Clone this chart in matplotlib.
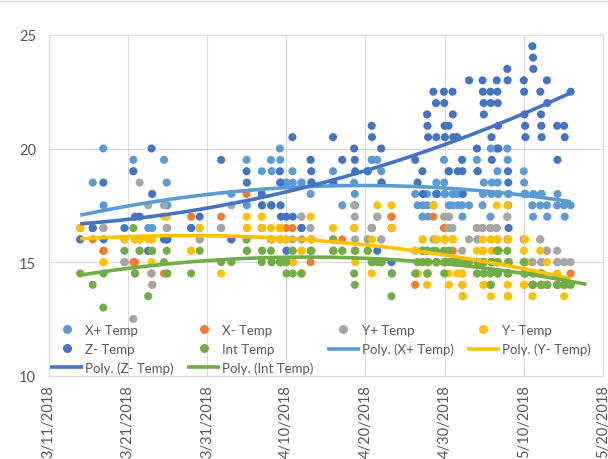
import numpy as np
import pandas as pd
import matplotlib
matplotlib.use('Agg')
import matplotlib.pyplot as plt
import matplotlib.dates as mdates
from matplotlib.lines import Line2D
from matplotlib.ticker import FuncFormatter

plt.rcParams['font.family'] = ['Lato', 'DejaVu Sans']

# logger time stamps (one reading of every sensor per stamp)
stamps = [
    '2018-03-15 00:00', '2018-03-16 14:00', '2018-03-17 22:00', '2018-03-17 23:00',
    '2018-03-20 14:00', '2018-03-21 17:00', '2018-03-21 22:00', '2018-03-22 12:00',
    '2018-03-23 14:00', '2018-03-24 00:00', '2018-03-24 02:00', '2018-03-25 14:00',
    '2018-03-25 22:00', '2018-03-26 00:00', '2018-03-29 00:00', '2018-03-30 02:00',
    '2018-04-01 19:00', '2018-04-03 02:00', '2018-04-05 00:00', '2018-04-05 01:00',
    '2018-04-06 22:00', '2018-04-06 23:00', '2018-04-08 02:00', '2018-04-08 04:00',
    '2018-04-09 05:00', '2018-04-09 06:00', '2018-04-09 07:00', '2018-04-09 08:00',
    '2018-04-10 00:00', '2018-04-10 01:00', '2018-04-10 19:00', '2018-04-10 20:00',
    '2018-04-11 22:00', '2018-04-11 23:00', '2018-04-13 02:00', '2018-04-13 04:00',
    '2018-04-13 05:00', '2018-04-15 22:00', '2018-04-15 23:00', '2018-04-17 02:00',
    '2018-04-18 14:00', '2018-04-18 16:00', '2018-04-18 17:00', '2018-04-20 07:00',
    '2018-04-20 19:00', '2018-04-20 20:00', '2018-04-21 12:00', '2018-04-22 00:00',
    '2018-04-22 01:00', '2018-04-23 07:00', '2018-04-23 08:00',
    '2018-04-26 07:00', '2018-04-26 14:00', '2018-04-27 05:00', '2018-04-27 06:00',
    '2018-04-27 19:00', '2018-04-27 20:00', '2018-04-27 22:00', '2018-04-28 14:00',
    '2018-04-28 22:00', '2018-04-28 23:00', '2018-04-29 00:00', '2018-04-29 22:00',
    '2018-04-29 23:00', '2018-04-30 00:00', '2018-04-30 01:00', '2018-04-30 12:00',
    '2018-04-30 13:00', '2018-05-01 00:00', '2018-05-01 01:00', '2018-05-01 02:00',
    '2018-05-01 14:00', '2018-05-01 16:00', '2018-05-02 05:00', '2018-05-02 06:00',
    '2018-05-02 07:00', '2018-05-03 02:00', '2018-05-04 02:00', '2018-05-04 04:00',
    '2018-05-04 19:00', '2018-05-04 20:00', '2018-05-04 22:00', '2018-05-04 23:00',
    '2018-05-05 19:00', '2018-05-05 20:00', '2018-05-05 22:00', '2018-05-05 23:00',
    '2018-05-06 14:00', '2018-05-06 16:00', '2018-05-06 17:00', '2018-05-06 18:00',
    '2018-05-06 19:00', '2018-05-07 22:00', '2018-05-07 23:00', '2018-05-08 00:00',
    '2018-05-08 01:00', '2018-05-08 02:00', '2018-05-10 00:00', '2018-05-10 01:00',
    '2018-05-10 02:00', '2018-05-10 04:00', '2018-05-10 05:00', '2018-05-11 02:00',
    '2018-05-11 04:00', '2018-05-11 05:00', '2018-05-12 02:00', '2018-05-12 04:00',
    '2018-05-12 05:00', '2018-05-12 06:00', '2018-05-12 22:00', '2018-05-12 23:00',
    '2018-05-14 05:00', '2018-05-14 06:00', '2018-05-15 02:00', '2018-05-15 04:00',
    '2018-05-15 22:00',
]

x_plus_temp = [
    16.5, 18.5, 20.0, 17.5, 16.0, 19.5, 16.0, 16.0, 16.5, 16.0, 16.5, 19.5,
    18.5, 17.5, 16.5, 16.5, 16.5, 18.0, 19.5, 17.5, 19.0, 17.5, 19.5, 19.0,
    20.0, 19.5, 18.5, 18.5, 18.5, 18.5, 19.0, 18.5, 18.5, 18.5, 18.0, 18.5,
    18.5, 19.0, 18.5, 17.5, 18.5, 18.0, 17.5, 19.0, 19.5, 19.5, 19.5, 19.0,
    18.5, 17.0, 16.5,
    18.0, 17.5, 17.0, 17.5, 18.0, 17.5, 17.0, 17.5, 18.0, 18.5, 18.0, 19.5,
    18.5, 18.0, 18.0, 19.0, 17.5, 18.0, 17.5, 18.0, 18.0, 17.5, 17.5, 17.0,
    18.0, 17.5, 19.5, 19.0, 17.5, 18.0, 18.0, 18.5, 17.0, 20.0, 18.0, 18.5,
    20.0, 19.0, 18.5, 18.0, 18.0, 20.0, 19.5, 18.0, 17.5, 18.0, 19.0, 18.5,
    18.0, 18.0, 18.0, 17.5, 17.0, 18.0, 17.5, 18.0, 18.0, 18.0, 17.5, 17.0,
    17.5, 18.0, 17.5, 17.0, 17.5,
]

x_minus_temp = [
    16.0, 16.0, 15.5, 15.5, 15.0, 15.0, 15.0, 15.5, 15.5, 14.5, 14.0, 14.5,
    16.0, 14.5, 17.0, 16.0, 17.0, 16.0, 18.0, 16.5, 16.5, 16.5, 16.0, 16.0,
    16.5, 16.5, 16.0, 15.0, 16.5, 15.0, 16.5, 15.5, 17.0, 16.0, 15.0, 16.0,
    16.0, 16.0, 15.5, 16.0, 16.5, 15.5, 15.5, 16.0, 16.5, 16.5, 17.0, 16.0,
    15.0, 17.0, 16.5,
    14.0, 14.5, 15.5, 15.0, 15.5, 14.5, 15.0, 17.0, 16.0, 15.0, 15.0, 16.5,
    16.0, 15.0, 15.0, 16.5, 17.0, 16.0, 15.5, 15.0, 15.0, 15.0, 14.5, 14.0,
    13.5, 15.0, 16.5, 16.0, 16.5, 15.5, 14.0, 15.0, 16.5, 14.0, 15.0, 15.0,
    16.5, 16.0, 15.0, 15.0, 15.5, 17.0, 16.0, 13.5, 15.0, 15.0, 16.0, 14.0,
    15.0, 15.0, 15.0, 15.0, 14.0, 14.5, 16.0, 14.0, 15.0, 15.0, 15.5, 14.0,
    15.0, 14.0, 14.0, 14.0, 14.5,
]

y_plus_temp = [
    16.5, 16.5, 16.5, 16.5, 15.0, 12.5, 14.5, 18.5, 17.5, 14.5, 14.0, 17.5,
    16.5, 16.5, 15.5, 16.0, 16.5, 17.5, 16.0, 15.5, 16.5, 15.5, 16.0, 15.0,
    16.5, 15.0, 16.0, 15.0, 16.0, 15.5, 16.0, 15.0, 17.0, 16.0, 16.5, 16.0,
    16.0, 16.0, 15.5, 15.5, 17.5, 17.0, 16.0, 16.0, 16.5, 16.5, 17.0, 16.0,
    15.0, 16.5, 16.5,
    15.5, 15.0, 15.5, 15.0, 15.5, 14.5, 15.0, 16.0, 16.0, 15.0, 15.0, 17.0,
    16.0, 15.0, 15.0, 16.5, 17.0, 16.5, 15.0, 15.0, 15.0, 15.0, 15.5, 15.0,
    15.0, 16.0, 16.5, 16.0, 16.5, 15.5, 15.0, 15.0, 16.5, 14.0, 15.0, 15.5,
    16.5, 16.0, 15.0, 15.0, 15.5, 17.0, 16.0, 15.0, 15.0, 15.0, 16.0, 15.0,
    15.0, 15.0, 15.0, 15.0, 14.0, 14.5, 16.0, 14.0, 15.0, 15.0, 15.5, 14.0,
    15.5, 15.0, 15.0, 15.0, 15.0,
]

y_minus_temp = [
    16.5, 16.5, 15.0, 15.0, 16.0, 19.0, 16.0, 16.0, 16.0, 15.0, 16.0, 17.0,
    17.0, 16.0, 15.5, 16.5, 14.5, 16.0, 17.0, 16.5, 17.0, 16.5, 16.5, 16.0,
    16.5, 16.5, 16.0, 15.0, 16.0, 15.0, 15.0, 15.0, 15.5, 15.5, 17.0, 16.0,
    16.0, 16.5, 16.0, 15.5, 16.5, 15.5, 15.0, 15.5, 14.5, 16.0, 17.5, 15.0,
    15.0, 17.5, 16.5,
    15.5, 14.5, 16.0, 16.0, 14.0, 15.0, 14.5, 17.5, 16.0, 15.0, 16.0, 16.0,
    15.0, 16.0, 14.5, 14.5, 14.0, 16.0, 15.0, 16.0, 14.5, 15.0, 14.5, 14.0,
    13.5, 15.0, 15.5, 15.0, 16.0, 15.5, 14.0, 14.5, 16.0, 13.5, 16.0, 15.5,
    17.5, 16.0, 15.0, 14.5, 15.5, 17.5, 14.0, 13.5, 16.0, 15.0, 15.5, 14.0,
    14.0, 16.0, 15.0, 13.5, 14.0, 14.5, 15.5, 14.0, 14.0, 14.5, 15.0, 14.0,
    14.5, 14.0, 13.5, 14.0, 14.0,
]

z_minus_temp = [
    16.0, 16.5, 18.5, 16.0, 16.5, 19.0, 17.0, 17.0, 15.5, 20.0, 18.0, 16.0,
    16.0, 16.0, 16.5, 17.0, 19.5, 16.0, 19.0, 18.5, 18.0, 17.5, 17.5, 17.5,
    19.0, 18.5, 17.5, 17.0, 17.0, 15.5, 20.5, 17.0, 16.5, 16.5, 19.5, 19.0,
    18.5, 20.5, 18.5, 19.5, 20.0, 19.5, 19.0, 19.0, 21.0, 20.5, 15.5, 20.0,
    18.5, 15.0, 14.5,
    19.5, 18.5, 19.0, 18.0, 21.5, 21.0, 20.5, 22.5, 22.0, 20.5, 18.0, 22.5,
    22.0, 21.0, 20.5, 21.0, 19.0, 22.5, 21.5, 20.5, 20.5, 19.0, 19.5, 19.0,
    18.0, 23.0, 20.0, 19.0, 23.0, 22.5, 22.0, 21.5, 22.5, 22.0, 20.5, 19.5,
    23.0, 22.5, 22.0, 21.0, 20.0, 23.5, 23.0, 19.0, 18.5, 16.5, 23.0, 22.5,
    21.5, 21.0, 20.5, 24.5, 24.0, 23.5, 22.5, 21.5, 21.0, 20.5, 23.0, 22.0,
    21.0, 19.5, 21.0, 20.5, 22.5,
]

int_temp = [
    14.5, 14.0, 13.0, 14.5, 15.5, 16.5, 14.5, 15.5, 13.5, 15.5, 15.5, 15.0,
    15.5, 14.5, 14.5, 15.5, 15.0, 15.0, 16.0, 15.5, 15.0, 15.5, 15.5, 15.0,
    15.0, 15.0, 15.0, 15.0, 15.0, 14.5, 15.5, 14.5, 14.5, 14.5, 15.5, 15.5,
    15.5, 16.0, 15.5, 15.5, 14.5, 14.0, 15.5, 15.5, 15.0, 15.0, 15.0, 15.0,
    15.0, 13.5, 14.5,
    14.5, 15.0, 15.5, 15.0, 15.5, 14.5, 15.0, 15.5, 15.5, 15.0, 15.0, 15.5,
    14.5, 15.0, 15.0, 15.5, 15.0, 15.0, 15.0, 15.0, 15.0, 15.0, 15.0, 15.0,
    15.0, 15.0, 14.5, 15.0, 15.0, 15.0, 14.5, 15.0, 14.5, 14.0, 15.0, 15.0,
    15.5, 15.0, 14.5, 14.5, 15.5, 15.5, 14.5, 14.5, 14.5, 15.0, 15.0, 14.5,
    14.5, 14.5, 14.5, 14.0, 14.0, 14.5, 14.5, 14.0, 14.0, 14.5, 14.0, 14.0,
    14.0, 14.0, 14.0, 14.0, 14.0,
]

series = [
    ('X+ Temp', x_plus_temp, '#5B9BD5'),
    ('X- Temp', x_minus_temp, '#ED7D31'),
    ('Y+ Temp', y_plus_temp, '#A5A5A5'),
    ('Y- Temp', y_minus_temp, '#FFC000'),
    ('Z- Temp', z_minus_temp, '#4472C4'),
    ('Int Temp', int_temp, '#70AD47'),
]
# 2nd order trendlines, with forward forecast in days
trends = {'X+ Temp': 0, 'Y- Temp': 0, 'Z- Temp': 0, 'Int Temp': 2}

t = mdates.date2num(pd.to_datetime(stamps))

fig = plt.figure(figsize=(6.08, 4.6), dpi=100)
ax = fig.add_axes([0.0798, 0.181, 0.912, 0.741])

for name, vals, col in series:
    ax.scatter(t, vals, s=34, color=col, edgecolors='none', zorder=3)

trend_lines = {}
for name, vals, col in series:
    if name in trends:
        coef = np.polyfit(t - t[0], vals, 2)
        xx = np.linspace(t[0], t[-1] + trends[name], 200)
        trend_lines[name], = ax.plot(xx, np.polyval(coef, xx - t[0]), color=col,
                                     lw=2.6, zorder=4, solid_capstyle='butt')

# axes
ax.set_ylim(10, 25)
ax.set_yticks([10, 15, 20, 25])
ax.set_xlim(mdates.date2num(pd.Timestamp('2018-03-11')), mdates.date2num(pd.Timestamp('2018-05-20')))
ax.set_xticks(mdates.date2num(pd.date_range('2018-03-11', '2018-05-20', freq='10D')))
ax.xaxis.set_major_formatter(FuncFormatter(
    lambda x, pos: '{}/{}/{}'.format(mdates.num2date(x).month, mdates.num2date(x).day, mdates.num2date(x).year)))
ax.grid(color='#D9D9D9', lw=0.8)
ax.set_axisbelow(True)
for s in ax.spines.values():
    s.set_color('#D9D9D9')
    s.set_linewidth(0.8)
ax.tick_params(length=0, colors='#595959', labelsize=10.5)
ax.tick_params(axis='y', pad=9)
ax.tick_params(axis='x', pad=6, labelrotation=90)

# legend laid out row by row
mk = {name: Line2D([], [], ls='none', marker='o', ms=6.5, color=col, mec='none')
      for name, vals, col in series}
order = [mk['X+ Temp'], mk['Z- Temp'], trend_lines['Z- Temp'],
         mk['X- Temp'], mk['Int Temp'], trend_lines['Int Temp'],
         mk['Y+ Temp'], trend_lines['X+ Temp'],
         mk['Y- Temp'], trend_lines['Y- Temp']]
labels = ['X+ Temp', 'Z- Temp', 'Poly. (Z- Temp)',
          'X- Temp', 'Int Temp', 'Poly. (Int Temp)',
          'Y+ Temp', 'Poly. (X+ Temp)',
          'Y- Temp', 'Poly. (Y- Temp)']
leg = ax.legend(order, labels, ncol=4, loc='lower left', bbox_to_anchor=(0.0, 0.0),
                frameon=False, fontsize=9.5, handlelength=2.5, handletextpad=0.15,
                columnspacing=1.0, labelspacing=0.5, borderpad=0.15, borderaxespad=0)
for txt in leg.get_texts():
    txt.set_color('#595959')

fig.add_artist(Line2D([0, 1], [0.995, 0.995], transform=fig.transFigure, color='#D9D9D9', lw=1))

fig.savefig('out.png', dpi=100)
